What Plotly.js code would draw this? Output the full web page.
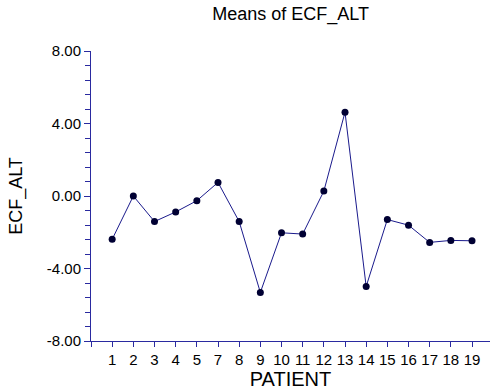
<!DOCTYPE html>
<html><head><meta charset="utf-8">
<script src="https://cdn.plot.ly/plotly-3.0.1.min.js"></script>
<style>html,body{margin:0;padding:0;background:#fff;}#chart{width:490px;height:392px;}</style>
</head><body><div id="chart"></div>
<script>
const patients = ["1","2","3","4","5","7","8","9","10","11","12","13","14","15","16","17","18","19"];
const means = [-2.39, 0.0, -1.41, -0.88, -0.26, 0.75, -1.41, -5.32, -2.03, -2.10, 0.27, 4.62, -4.99, -1.30, -1.61, -2.56, -2.45, -2.47];
const yTickVals = [-8, -4, 0, 4, 8];
const yTickText = ["-8.00", "-4.00", "0.00", "4.00", "8.00"];

const xIdx = patients.map((p, i) => i);
const xTickVals = [-1].concat(xIdx);
const xTickText = [""].concat(patients);
const axisCol = "#2a2aa0";

Plotly.newPlot("chart", [{
  x: xIdx, y: means, type: "scatter", mode: "lines+markers",
  line: {color: "#1a1a8c", width: 1},
  marker: {color: "#000033", size: 7},
  hoverinfo: "skip"
}], {
  width: 490, height: 392,
  margin: {l: 91, r: 0, t: 51, b: 51},
  paper_bgcolor: "#fff", plot_bgcolor: "#fff",
  font: {family: "Liberation Sans, Arial, sans-serif", color: "#000"},
  title: {text: "Means of ECF_ALT", x: 0.593, xanchor: "center", y: 0.966, yanchor: "middle", font: {size: 18, color: "#000"}},
  showlegend: false,
  xaxis: {
    range: [-1, 17.85], tickmode: "array", tickvals: xTickVals, ticktext: xTickText,
    showgrid: false, zeroline: false, showline: true, linecolor: axisCol, linewidth: 1,
    ticks: "outside", ticklen: 5, tickcolor: axisCol, tickfont: {size: 15},
    title: {text: "PATIENT", font: {size: 20}, standoff: 1}
  },
  yaxis: {
    range: [-8, 8], tickmode: "array", tickvals: yTickVals, ticktext: yTickText,
    showgrid: false, zeroline: false, showline: true, linecolor: axisCol, linewidth: 1,
    ticks: "outside", ticklen: 6, tickcolor: axisCol, tickfont: {size: 15},
    minor: {dtick: 0.8, ticks: "outside", ticklen: 5, tickcolor: axisCol, showgrid: false},
    title: {text: "ECF_ALT", font: {size: 18}, standoff: 19}
  }
}, {staticPlot: true, displayModeBar: false});
</script></body></html>
